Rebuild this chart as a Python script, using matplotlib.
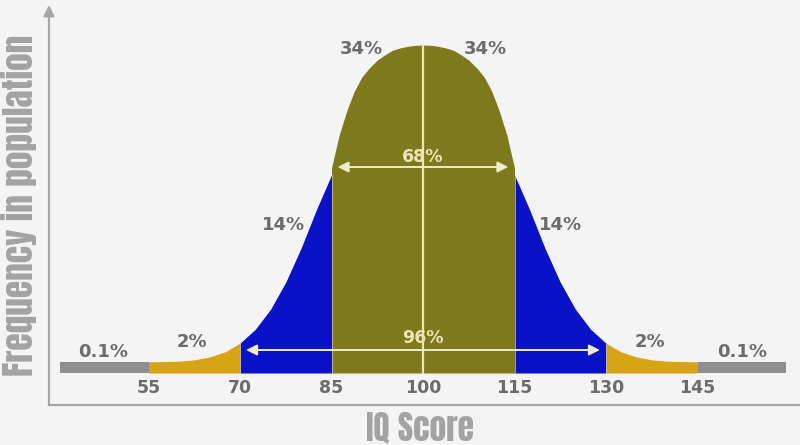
import numpy as np
import matplotlib
matplotlib.use("Agg")
import matplotlib.pyplot as plt
from matplotlib.patches import Rectangle

# ---- data ----
tick_values = [55, 70, 85, 100, 115, 130, 145]
tick_labels = ["55", "70", "85", "100", "115", "130", "145"]
pct_labels = ["0.1%", "2%", "14%", "34%", "34%", "14%", "2%", "0.1%"]
span_labels = ["68%", "96%"]
span_ranges = [(85, 115), (70, 130)]
tail_bar_ranges = [(40.5, 55), (145, 159.5)]
tail_bar_height = 0.034

# curve heights (peak = 1), left half
tail_x = [55, 57.5, 60, 62.5, 65, 67.5, 70, 72.5, 75, 77.5, 80, 82.5, 85]
tail_h = [0.034, 0.035, 0.036, 0.040, 0.049, 0.064, 0.091, 0.133, 0.194,
          0.277, 0.380, 0.497, 0.604]
dome_x = [85, 86.25, 87.5, 88.75, 90, 91.25, 92.5, 93.75, 95, 96.25,
          97.5, 98.75, 100]
dome_h = [0.625, 0.725, 0.799, 0.860, 0.903, 0.931, 0.954, 0.970,
          0.984, 0.991, 0.996, 0.999, 1.0]

GOLD, BLUE, OLIVE, GRAY = "#d6a414", "#0a12c8", "#7e791c", "#8e8e8e"
BG = "#f4f4f4"
TXT = "#6b6b6b"
AX = "#a6a6a6"
PALE = "#ebe6b4"

tx = np.array(tail_x)
th = np.array(tail_h)
dx = np.array(dome_x)
dh = np.array(dome_h)
gold_l = tx <= 70
blue_l = tx >= 70

fig = plt.figure(figsize=(8, 4.45), dpi=100, facecolor=BG)
W, H = 800, 445
ax = fig.add_axes([49 / W, (H - 405) / H, (W - 49) / W, (405 - 5) / H])
ax.set_facecolor(BG)

px_per_unit = 6.1
base_px, peak_px = 373, 45
scale = base_px - peak_px
ax.set_xlim(100 - (423 - 49) / px_per_unit, 100 + (800 - 423) / px_per_unit)
ax.set_ylim((base_px - 405) / scale, (base_px - 5) / scale)


def vy(py):
    return (base_px - py) / scale


def vx(px):
    return 100 + (px - 423) / px_per_unit


# gray tail bars
for a, b in tail_bar_ranges:
    ax.add_patch(Rectangle((a, 0), b - a, tail_bar_height,
                           facecolor=GRAY, edgecolor="none"))

# colored regions, left and right (right mirrors the left about 100)
for sign in (1, -1):
    X = lambda arr: 100 + sign * (np.asarray(arr) - 100)
    ax.fill_between(X(tx[gold_l]), 0, th[gold_l], color=GOLD, linewidth=0)
    ax.fill_between(X(tx[blue_l]), 0, th[blue_l], color=BLUE, linewidth=0)
    ax.fill_between(X(dx), 0, dh, color=OLIVE, linewidth=0)

# thin separators between regions
h70 = th[tx == 70][0]
h85 = th[-1]
for bnd, h in [(70, h70), (130, h70), (85, h85), (115, h85)]:
    ax.plot([bnd, bnd], [0, h], color="#d8d4b0", lw=0.7, alpha=0.7)
# central line
ax.plot([100, 100], [0, 1.0], color=PALE, lw=1.6)

# span arrows
span_py = [167, 350]
label_py = [157, 338]
for (a, b), lab, py, lpy in zip(span_ranges, span_labels, span_py, label_py):
    ax.annotate("", xy=(a + 1.0, vy(py)), xytext=(b - 1.0, vy(py)),
                arrowprops=dict(arrowstyle="<|-|>", color="#eeeccc", lw=1.4,
                                mutation_scale=16, shrinkA=0, shrinkB=0))
    ax.text(100, vy(lpy), lab, color=PALE, fontsize=12.5, fontweight="bold",
            ha="center", va="center")

# percentage labels
pct_pos_px = [(103, 352), (192, 342), (283, 225), (361, 49),
              (485, 49), (561, 225), (650, 342), (742, 352)]
for lab, (px, py) in zip(pct_labels, pct_pos_px):
    ax.text(vx(px), vy(py), lab, color=TXT, fontsize=13, fontweight="bold",
            ha="center", va="center")

# tick labels (inside, above the axis line)
ax.set_xticks([])
ax.set_yticks([])
for t, lab in zip(tick_values, tick_labels):
    ax.text(t, vy(388), lab, color=TXT, fontsize=12.5, fontweight="bold",
            ha="center", va="center")

# spines
for s in ["top", "right", "left"]:
    ax.spines[s].set_visible(False)
ax.spines["bottom"].set_color(AX)
ax.spines["bottom"].set_linewidth(1.6)
ax.annotate("", xy=(0, 1), xytext=(0, 0), xycoords="axes fraction",
            arrowprops=dict(arrowstyle="-|>", color=AX, lw=1.6,
                            mutation_scale=16, shrinkA=0, shrinkB=0),
            annotation_clip=False)

label_font = ["Anton", "Roboto Condensed", "Archivo Narrow",
              "Liberation Sans Narrow", "DejaVu Sans"]
fig.text(19 / W, 1 - 205 / H, "Frequency in population", rotation=90,
         ha="center", va="center", color="#a3a3a3", fontsize=25.5,
         fontweight="bold", family=label_font)
fig.text(420 / W, 1 - 444 / H, "IQ Score", ha="center", va="bottom",
         color="#a3a3a3", fontsize=24, fontweight="bold", family=label_font)

fig.savefig("out.png", dpi=100, facecolor=BG)
